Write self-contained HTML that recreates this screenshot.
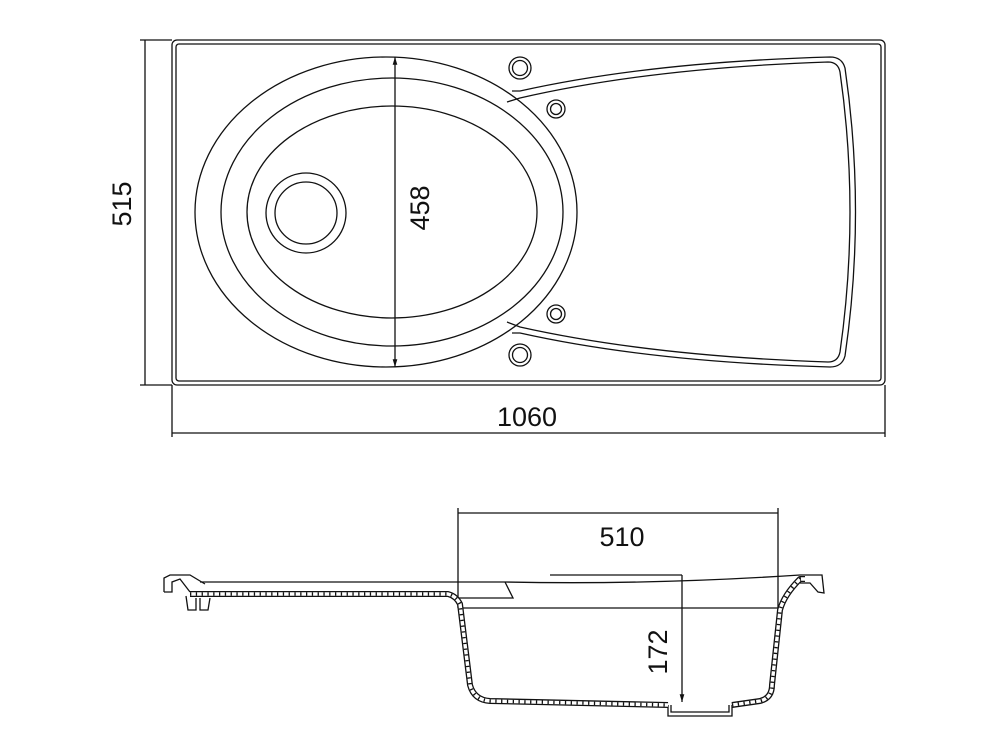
<!DOCTYPE html>
<html><head><style>
html,body{margin:0;padding:0;background:#fff;}
svg{display:block;}
text{font-family:"Liberation Sans",sans-serif;fill:#111;}
</style></head><body>
<svg width="1000" height="750" viewBox="0 0 1000 750" xmlns="http://www.w3.org/2000/svg">
<defs>
<marker id="ar" viewBox="0 0 10 10" refX="10" refY="5" markerWidth="6" markerHeight="6" orient="auto-start-reverse"><path d="M0,2 L10,5 L0,8" fill="#111"/></marker>
</defs>
<g fill="none" stroke="#111" stroke-width="1.3">
<rect x="172" y="40" width="713" height="345" rx="5"/>
<rect x="176" y="44" width="705" height="337" rx="3"/>
<line x1="140" y1="40" x2="172" y2="40"/>
<line x1="140" y1="385" x2="172" y2="385"/>
<line x1="145" y1="40" x2="145" y2="385"/>
<line x1="172" y1="385" x2="172" y2="437"/>
<line x1="885" y1="385" x2="885" y2="437"/>
<line x1="172" y1="433" x2="885" y2="433"/>
<ellipse cx="386" cy="212" rx="191" ry="155"/>
<ellipse cx="392" cy="212" rx="171" ry="134"/>
<ellipse cx="392" cy="212" rx="145" ry="106"/>
<circle cx="306" cy="213" r="40"/>
<circle cx="306" cy="213" r="31"/>
<line x1="395" y1="57" x2="395" y2="367" marker-start="url(#ar)" marker-end="url(#ar)"/>
<path d="M512,91 L520,91 Q650,62 830,57 Q842,57 845,68 Q866,212 845,356 Q842,367 830,367 Q650,362 520,333 L512,333"/>
<path d="M507,102 L520,98 Q650,68 828,62 Q838,62 840,72 Q860,212 840,352 Q838,362 828,362 Q650,356 520,327 L507,322"/>
<circle cx="520" cy="68" r="11"/><circle cx="520" cy="68" r="7.5"/>
<circle cx="556" cy="109" r="9"/><circle cx="556" cy="109" r="5.5"/>
<circle cx="556" cy="314" r="9"/><circle cx="556" cy="314" r="5.5"/>
<circle cx="520" cy="355" r="11"/><circle cx="520" cy="355" r="7.5"/>

<line x1="458" y1="508" x2="458" y2="608"/>
<line x1="778" y1="508" x2="778" y2="608"/>
<line x1="458" y1="513" x2="778" y2="513"/>
<line x1="458" y1="608" x2="778" y2="608"/>
<path d="M200,582 L505,582 Q650,585 800,575 L822,575 L824,593 L818,592 L810,583 L800,583"/>
<path d="M164,592 L164,578 L170,575 L190,575 L205,584"/>
<path d="M164,592 L172,592 L172,582 L180,579 L190,592"/>
<path d="M186,596 L188,610 L196,610 L196,598 M200,598 L200,610 L208,610 L210,598"/>
<path d="M505,582 L513,598 L458,598"/>
<line x1="550" y1="575" x2="682" y2="575"/>
<line x1="682" y1="575" x2="682" y2="702" marker-end="url(#ar)"/>
<path d="M668,705 L668,716 L732,716 L732,705"/>
<path d="M671,705 L671,712 L729,712 L729,705"/>
</g>
<g fill="none" stroke-linejoin="round">
<path id="w" d="M190,594 L448,594 Q456,596 460,604 L470,685 Q474,700 490,701 L668,705 M732,705 L760,701 Q772,698 772,685 L780,610 Q784,595 800,579 L805,579"/>
<use href="#w" stroke="#111" stroke-width="6"/>
<use href="#w" stroke="#fff" stroke-width="3.4"/>
<use href="#w" stroke="#111" stroke-width="3.4" stroke-dasharray="1.3 4.5"/>
</g>
<text x="124" y="204" font-size="27" text-anchor="middle" dominant-baseline="middle" transform="rotate(-90 124 204)">515</text>
<text x="422" y="208" font-size="27" text-anchor="middle" dominant-baseline="middle" transform="rotate(-90 422 208)">458</text>
<text x="527" y="426" font-size="27" text-anchor="middle">1060</text>
<text x="622" y="546" font-size="27" text-anchor="middle">510</text>
<text x="660" y="652" font-size="27" text-anchor="middle" dominant-baseline="middle" transform="rotate(-90 660 652)">172</text>
</svg>
</body></html>
